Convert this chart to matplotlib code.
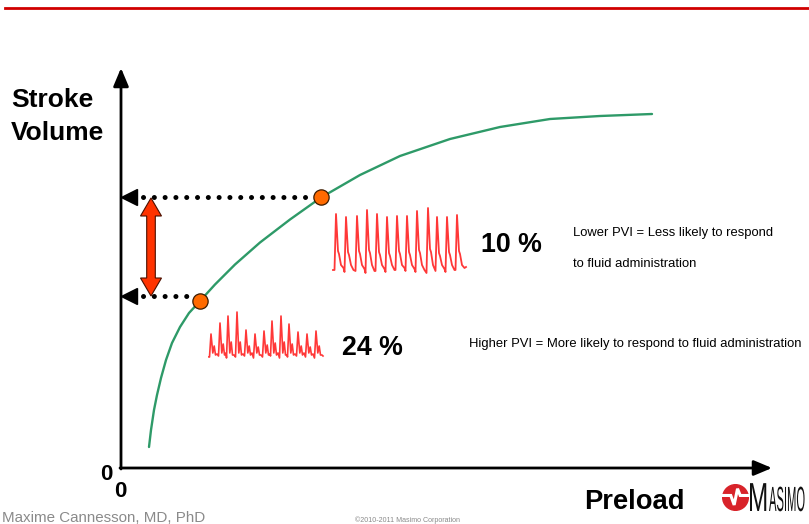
import matplotlib
matplotlib.use("Agg")
import matplotlib.pyplot as plt
from matplotlib import font_manager
from matplotlib.patches import Polygon, Circle, PathPatch
from matplotlib.textpath import TextPath
from matplotlib.font_manager import FontProperties
from matplotlib.transforms import Affine2D
from matplotlib.lines import Line2D

# ---------------- data ----------------
# Frank-Starling curve (preload vs stroke volume), arbitrary units
preload = [28, 30, 33, 36, 40, 45, 51, 59, 68, 79, 94, 114, 139, 169, 200,
           239, 279, 329, 379, 429, 479, 531]
stroke_volume = [21, 38, 58, 73, 90, 108, 125, 141, 155, 167, 183.5, 203.5, 225.5,
                 248.5, 270.5, 293, 312, 329, 341, 349, 352, 354]

# operating points on the curve
pt_low = (79, 167)
pt_high = (200, 271)

# pleth waveforms (time in samples, amplitude in a.u.)
up_beats = [336, 346, 357, 367, 377, 387, 397, 407, 417, 428, 437, 447, 457]
up_peaks = [62, 59, 60, 66, 62, 59, 60, 60, 65, 68, 59, 59, 61]
up_notch = [25, 24, 25, 26, 24, 23, 25, 24, 26, 27, 23, 24, 25]
up_trough = [6, 4, 5, 3, 5, 4, 6, 5, 4, 3, 5, 4, 6]

lo_beats = [211, 220, 228, 237, 246, 255, 264, 272, 281, 289, 298, 307, 316]
lo_peaks = [28, 39, 46, 50, 32, 28, 31, 41, 46, 38, 30, 28, 31]
lo_notch = [16, 18, 20, 20, 16, 15, 17, 19, 20, 18, 16, 15, 16]
lo_trough = [5, 6, 4, 5, 6, 4, 5, 6, 4, 5, 6, 5, 4]

pvi_high_resp = "10 %"
pvi_low_resp = "24 %"

# ---------------- fonts ----------------
names = {f.name for f in font_manager.fontManager.ttflist}
SANS = "Liberation Sans" if "Liberation Sans" in names else "DejaVu Sans"
NARROW = "Liberation Sans Narrow" if "Liberation Sans Narrow" in names else SANS
small_size = 10.5 if NARROW != SANS else 9.4

W, H = 809, 524
fig = plt.figure(figsize=(W / 100, H / 100), dpi=100)
fig.patch.set_facecolor("white")


def fx(px):
    return px / W


def fy(py):
    return 1 - py / H


# top red rule
fig.add_artist(Line2D([fx(5), fx(809)], [fy(7.5), fy(7.5)], color="#D00000", lw=2.0))

# ---------------- main axes ----------------
ax = fig.add_axes([fx(121), fy(468), (772 - 121) / W, (468 - 68) / H])
ax.set_xlim(0, 651)
ax.set_ylim(0, 400)
ax.axis("off")

# axes with arrows
for xy in ((0, 400), (651, 0)):
    ax.annotate("", xy=xy, xytext=(-1, 0) if xy[1] == 0 else (0, -1),
                arrowprops=dict(arrowstyle="-|>,head_length=1.0,head_width=0.42",
                                mutation_scale=11, lw=2.0, color="black",
                                shrinkA=0, shrinkB=0), annotation_clip=False)

# curve
ax.plot(preload, stroke_volume, color="#2E9A68", lw=1.7, solid_capstyle="round",
        solid_joinstyle="round", clip_on=False, zorder=3)

# dotted projection lines with left-pointing arrowheads
for (px_, py_), dy in ((pt_low, 5), (pt_high, 0)):
    yy = py_ + dy
    ax.plot([22, px_ - 9], [yy, yy], color="black",
            lw=3.6, linestyle=(0, (0.01, 2.15)), dash_capstyle="round",
            clip_on=False, zorder=2)
    ax.plot([8], [yy], marker="<", ms=11, color="black", clip_on=False, zorder=2)

# markers
ax.plot([pt_low[0], pt_high[0]], [pt_low[1], pt_high[1]], "o", ms=11,
        mfc="#FF6A00", mec="#3A1A00", mew=0.9, zorder=5, clip_on=False)

# red double arrow between the two stroke-volume levels
cx = 30
y0 = pt_low[1] + 5
y1 = pt_high[1] - 1
hl, hw, sw = 18, 10.5, 4.3
arrow_poly = [(cx, y1), (cx + hw, y1 - hl), (cx + sw, y1 - hl), (cx + sw, y0 + hl),
              (cx + hw, y0 + hl), (cx, y0), (cx - hw, y0 + hl), (cx - sw, y0 + hl),
              (cx - sw, y1 - hl), (cx - hw, y1 - hl)]
ax.add_patch(Polygon(arrow_poly, closed=True, facecolor="#FF3300",
                     edgecolor="#4A1000", lw=0.8, zorder=4, clip_on=False))

# ---------------- waveforms ----------------
def build_up():
    t, a = [333], [up_trough[0]]
    for i, b in enumerate(up_beats):
        t += [b - 1.5, b, b + 2, b + 3, b + 5, b + 7.5]
        a += [up_trough[i], up_peaks[i], up_notch[i], up_notch[i] - 3, 11, up_trough[i] + 2]
    t.append(466)
    a.append(up_trough[-1] + 3)
    return t, a


def build_lo():
    t, a = [209], [lo_trough[0]]
    for i, b in enumerate(lo_beats):
        t += [b - 1.5, b, b + 1.8, b + 3.2, b + 4.5, b + 6]
        a += [lo_trough[i], lo_peaks[i], 9, lo_notch[i], 7, lo_trough[i] + 3]
    t.append(323)
    a.append(lo_trough[-1] + 2)
    return t, a


axw1 = fig.add_axes([fx(330), fy(276), 140 / W, 72 / H])
axw1.set_xlim(330, 470)
axw1.set_ylim(0, 72)
axw1.axis("off")
t1, a1 = build_up()
axw1.plot(t1, a1, color="#FF2222", lw=1.3, alpha=0.9, solid_joinstyle="round")

axw2 = fig.add_axes([fx(206), fy(360), 122 / W, 58 / H])
axw2.set_xlim(206, 328)
axw2.set_ylim(2, 60)
axw2.axis("off")
t2, a2 = build_lo()
axw2.plot(t2, a2, color="#FF2222", lw=1.2, alpha=0.9, solid_joinstyle="round")

# ---------------- texts ----------------
bold = dict(fontweight="bold", family=SANS, va="baseline", ha="left")
fig.text(fx(11), fy(107), "Stroke", fontsize=19, **bold)
fig.text(fx(11), fy(140), "Volume", fontsize=19, **bold)
fig.text(fx(584), fy(509), "Preload", fontsize=19.7, **bold)
fig.text(fx(100), fy(480), "0", fontsize=16, **bold)
fig.text(fx(114), fy(497), "0", fontsize=16, **bold)
fig.text(fx(481), fy(252), pvi_high_resp, fontsize=19.3, **bold)
fig.text(fx(342), fy(355), pvi_low_resp, fontsize=19.3, **bold)

fig.text(fx(573), fy(236), "Lower PVI = Less likely to respond", fontsize=small_size,
         family=NARROW, va="baseline", ha="left")
fig.text(fx(573), fy(267), "to fluid administration", fontsize=small_size,
         family=NARROW, va="baseline", ha="left")
fig.text(fx(469), fy(347), "Higher PVI = More likely to respond to fluid administration",
         fontsize=small_size, family=NARROW, va="baseline", ha="left")

fig.text(fx(2), fy(522), "Maxime Cannesson, MD, PhD", fontsize=10.9, color="#8A8A8A",
         family=SANS, va="baseline", ha="left")
fig.text(fx(355), fy(522), "\u00a92010-2011 Masimo Corporation", fontsize=5.1,
         color="#8A8A8A", family=NARROW, va="baseline", ha="left")

# ---------------- Masimo logo ----------------
lax = fig.add_axes([fx(722), fy(511), 27 / W, 27 / H])
lax.set_xlim(-1, 1)
lax.set_ylim(-1, 1)
lax.axis("off")
lax.add_patch(Circle((0, 0), 0.95, color="#D8232A"))
lax.plot([-0.95, -0.35, -0.1, 0.15, 0.35, 0.95], [0.15, 0.15, -0.55, 0.65, 0.15, 0.15],
         color="white", lw=2.2, solid_joinstyle="miter")

fp = FontProperties(family=SANS)
tpM = TextPath((0, 0), "M", size=40.5, prop=fp)
fig.add_artist(PathPatch(tpM, facecolor="#111111", lw=0,
                         transform=Affine2D().scale(0.6 / 100, 1 / 100).translate(748 / 100, (H - 511) / 100)
                         + fig.dpi_scale_trans))
tpA = TextPath((0, 0), "ASIMO", size=35, prop=fp)
fig.add_artist(PathPatch(tpA, facecolor="#111111", lw=0,
                         transform=Affine2D().scale(0.32 / 100, 1 / 100).translate(769 / 100, (H - 511) / 100)
                         + fig.dpi_scale_trans))

fig.savefig("out.png", dpi=100, facecolor="white")
